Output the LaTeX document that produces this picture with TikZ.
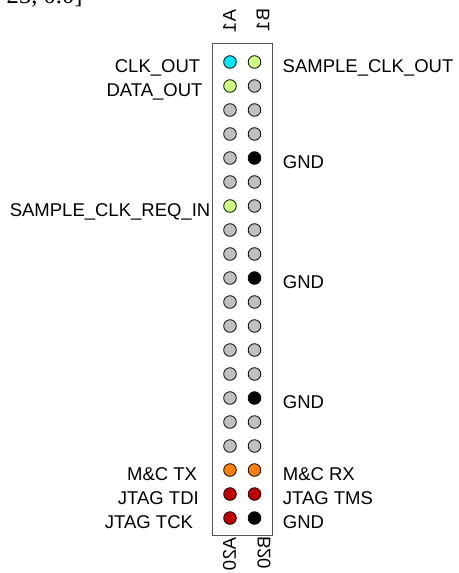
\documentclass[tikz,border=0pt]{standalone}
\usepackage{fontspec}
\setmainfont{Liberation Sans}
\newfontfamily\serifface{Liberation Serif}
\definecolor{pincyan}{HTML}{00E8FF}
\definecolor{pingreen}{HTML}{CCFF80}
\definecolor{pingray}{HTML}{C0C0C0}
\definecolor{pinblack}{HTML}{000000}
\definecolor{pinorange}{HTML}{FF8000}
\definecolor{pinred}{HTML}{C00000}
\definecolor{boxgray}{HTML}{555555}
\begin{document}
\begin{tikzpicture}[x=1pt,y=-1pt,
  pin/.style={circle,draw=black,line width=0.8pt,minimum size=12.6pt,inner sep=0pt},
  lbl/.style={inner sep=0pt,font=\fontsize{18.5}{20}\selectfont},
  leftlbl/.style={lbl,anchor=base east},
  rightlbl/.style={lbl,anchor=base west},
  collbl/.style={lbl,rotate=90}]
\useasboundingbox (0,0) rectangle (458,573);
\clip (0,0) rectangle (458,573);
\node[anchor=base west,inner sep=0pt,font=\serifface\fontsize{24.6}{26}\selectfont] (cut) at (6.5,3.5) {23, 0.0]};
\node[draw=boxgray,line width=1pt,minimum width=60.5pt,minimum height=492.5pt,inner sep=0pt] (header) at (242.25,289.25) {};
\foreach \r/\ca/\cb in {1/pincyan/pingreen,2/pingreen/pingray,3/pingray/pingray,4/pingray/pingray,
  5/pingray/pinblack,6/pingray/pingray,7/pingreen/pingray,8/pingray/pingray,9/pingray/pingray,
  10/pingray/pinblack,11/pingray/pingray,12/pingray/pingray,13/pingray/pingray,14/pingray/pingray,
  15/pingray/pinblack,16/pingray/pingray,17/pingray/pingray,18/pinorange/pinorange,
  19/pinred/pinred,20/pinred/pinblack}{
  \node[pin,fill=\ca] (a\r) at (230,{62+(\r-1)*24}) {};
  \node[pin,fill=\cb] (b\r) at (254.5,{62+(\r-1)*24}) {};
}
\node[leftlbl] (lclk) at (200.4,72) {CLK\_OUT};
\node[leftlbl] (ldata) at (202.7,96) {DATA\_OUT};
\node[leftlbl] (lreq) at (210.5,216) {SAMPLE\_CLK\_REQ\_IN};
\node[leftlbl] (lmctx) at (197.2,480) {M\&C TX};
\node[leftlbl] (ltdi) at (199,504) {JTAG TDI};
\node[leftlbl] (ltck) at (193.2,528) {JTAG TCK};
\node[rightlbl] (rsclk) at (282.5,72) {SAMPLE\_CLK\_OUT};
\node[rightlbl] (rgnda) at (282.7,168) {GND};
\node[rightlbl] (rgndb) at (282.7,288) {GND};
\node[rightlbl] (rgndc) at (282.7,408) {GND};
\node[rightlbl] (rmcrx) at (282.7,480) {M\&C RX};
\node[rightlbl] (rtms) at (282.7,504) {JTAG TMS};
\node[rightlbl] (rgndd) at (282.7,528) {GND};
\node[collbl] (ta1) at (229.5,21) {\reflectbox{A1}};
\node[collbl] (tb1) at (263,20) {\reflectbox{B1}};
\node[collbl] (ta20) at (229.5,554) {\reflectbox{A20}};
\node[collbl] (tb20) at (264,552.5) {\reflectbox{B20}};
\end{tikzpicture}
\end{document}
